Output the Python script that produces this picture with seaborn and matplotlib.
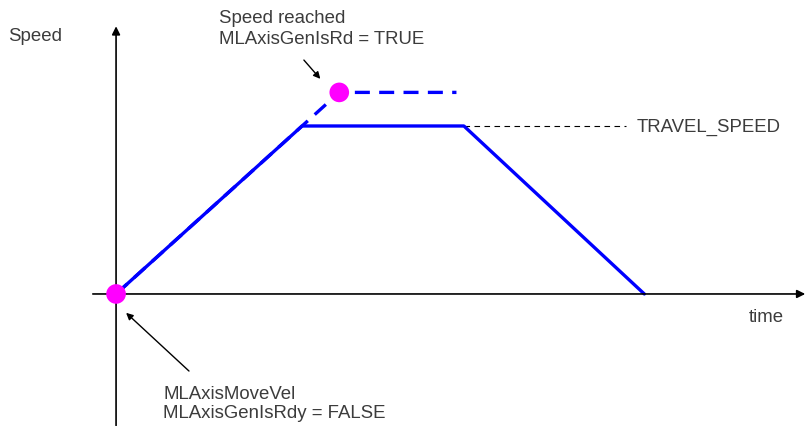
import pandas as pd
import seaborn as sns
import matplotlib.pyplot as plt

# Speed profile (time and speed in arbitrary units, travel speed = 100)
profile_time = [0, 100, 187, 284]
profile_speed = [0, 100, 100, 0]

# Commanded profile that would reach the higher speed (dashed)
target_time = [0, 120, 183]
target_speed = [0, 120, 120]

# Event points
event_time = [0, 120]
event_speed = [0, 120]

travel_speed = 100

sns.set_theme(style='white')
plt.rcParams['font.family'] = ['Liberation Sans', 'DejaVu Sans']

fig = plt.figure(figsize=(8.08, 4.27), dpi=100)
ax = fig.add_axes([0, 0, 1, 1])
ax.set_xlim(-62.4, 372)
ax.set_ylim(-78.6, 175.6)
ax.axis('off')

txt = '#3c3c3c'
fs = 13.4

# Axes with arrows
ax.annotate('', xy=(372, 0), xytext=(-14, 0),
            arrowprops=dict(arrowstyle='-|>', color='black', lw=1.2, mutation_scale=12))
ax.annotate('', xy=(0, 161), xytext=(0, -80),
            arrowprops=dict(arrowstyle='-|>', color='black', lw=1.2, mutation_scale=12))

# Travel speed reference
ax.plot([profile_time[2], 274], [travel_speed, travel_speed], color='black', lw=0.8,
        ls=(0, (5, 4)))
ax.text(280, travel_speed, 'TRAVEL_SPEED', fontsize=fs, color=txt, va='center', ha='left')

# Lines
df = pd.DataFrame({'time': profile_time, 'speed': profile_speed})
sns.lineplot(data=df, x='time', y='speed', color='#0000ff', lw=2.4, ax=ax, sort=False)
df2 = pd.DataFrame({'time': target_time, 'speed': target_speed})
sns.lineplot(data=df2, x='time', y='speed', color='#0000ff', lw=2.4, ax=ax, sort=False,
             dashes=False, linestyle=(0, (4.5, 2.8)))

# Event dots
sns.scatterplot(x=event_time, y=event_speed, color='#ff00ff', s=200, edgecolor='none',
                ax=ax, zorder=5)

# Annotations
ax.annotate('', xy=(110.8, 126.8), xytext=(100, 140.5),
            arrowprops=dict(arrowstyle='-|>', color='black', lw=1.0, mutation_scale=10))
ax.text(55.4, 169.5, 'Speed reached\nMLAxisGenIsRd = TRUE', fontsize=fs, color=txt,
        va='top', ha='left', linespacing=1.3)

ax.annotate('', xy=(4.3, -10.1), xytext=(40.3, -47),
            arrowprops=dict(arrowstyle='-|>', color='black', lw=1.0, mutation_scale=10))
ax.text(25.3, -54, 'MLAxisMoveVel\nMLAxisGenIsRdy = FALSE', fontsize=fs, color=txt,
        va='top', ha='left', linespacing=1.2)

ax.text(-58, 154, 'Speed', fontsize=fs, color=txt, va='center', ha='left')
ax.text(340, -13.7, 'time', fontsize=fs, color=txt, va='center', ha='left')

plt.savefig('out.png', dpi=100)
plt.close()
